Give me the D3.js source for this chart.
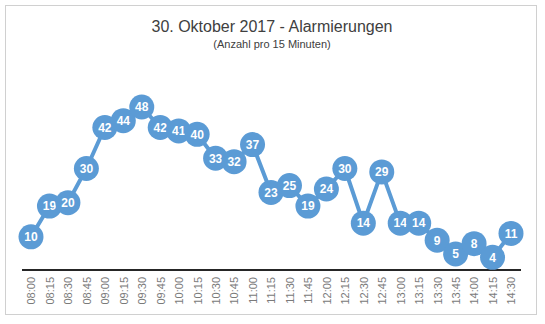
<!DOCTYPE html>
<html><head><meta charset="utf-8">
<script src="https://cdn.jsdelivr.net/npm/d3@7/dist/d3.min.js"></script>
<style>body{margin:0;background:#fff;}svg{display:block;}</style>
</head><body>
<script>
const categories = ["08:00","08:15","08:30","08:45","09:00","09:15","09:30","09:45","10:00","10:15","10:30","10:45","11:00","11:15","11:30","11:45","12:00","12:15","12:30","12:45","13:00","13:15","13:30","13:45","14:00","14:15","14:30"];
const values = [10,19,20,30,42,44,48,42,41,40,33,32,37,23,25,19,24,30,14,29,14,14,9,5,8,4,11];
const title = "30. Oktober 2017 - Alarmierungen";
const subtitle = "(Anzahl pro 15 Minuten)";

const W = 545, H = 324;
const svg = d3.select("body").append("svg").attr("width", W).attr("height", H);
svg.append("rect").attr("x", 5.5).attr("y", 5.5).attr("width", 531).attr("height", 309)
  .attr("fill", "#fff").attr("stroke", "#d0d0d0").attr("stroke-width", 1);

svg.append("text").attr("x", 272).attr("y", 32).attr("text-anchor", "middle")
  .attr("font-family", "Liberation Sans, Arial, sans-serif").attr("font-size", 16).attr("fill", "#404040").text(title);
svg.append("text").attr("x", 272).attr("y", 48).attr("text-anchor", "middle")
  .attr("font-family", "Liberation Sans, Arial, sans-serif").attr("font-size", 11).attr("fill", "#404040").text(subtitle);

const x = d3.scalePoint().domain(categories).range([31, 511]);
const y = d3.scaleLinear().domain([0, 48]).range([271, 107]);

// axis baseline
svg.append("line").attr("x1", 22).attr("x2", 521).attr("y1", 270).attr("y2", 270)
  .attr("stroke", "#262626").attr("stroke-width", 2);

const xAxis = svg.append("g").attr("transform", "translate(0,270)")
  .call(d3.axisBottom(x).tickSize(0).tickPadding(0));
xAxis.select(".domain").remove();
xAxis.selectAll("text")
  .attr("font-family", "Liberation Sans, Arial, sans-serif").attr("font-size", 11).attr("fill", "#7a7a7a")
  .attr("transform", "rotate(-90)").attr("text-anchor", "end").attr("x", -7).attr("y", 0).attr("dy", "0.35em");

const color = "#5b9bd5";
const data = categories.map((c, i) => ({c, v: values[i]}));
svg.append("path").datum(data)
  .attr("d", d3.line().x(d => x(d.c)).y(d => y(d.v)))
  .attr("fill", "none").attr("stroke", color).attr("stroke-width", 4).attr("stroke-linejoin", "round");

const pts = svg.append("g").selectAll("g").data(data).join("g")
  .attr("transform", d => `translate(${x(d.c)},${y(d.v)})`);
pts.append("circle").attr("r", 12.5).attr("fill", color);
pts.append("text").text(d => d.v).attr("text-anchor", "middle").attr("dy", "0.36em")
  .attr("font-family", "Liberation Sans, Arial, sans-serif").attr("font-size", 12).attr("font-weight", "bold").attr("fill", "#fff");
</script>
</body></html>
